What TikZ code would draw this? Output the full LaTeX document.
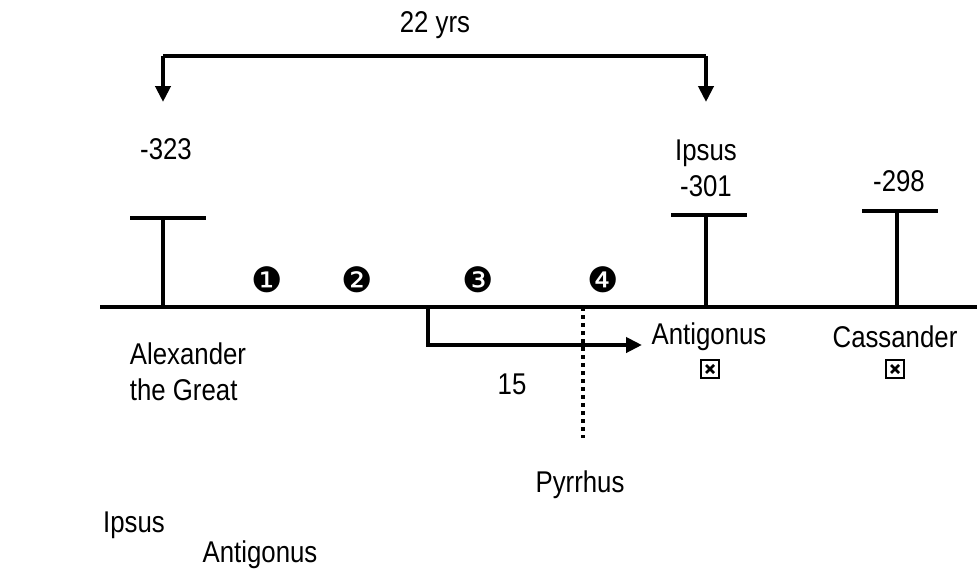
\documentclass[tikz,border=0pt]{standalone}
\usepackage{fontspec}
\setmainfont[FakeStretch=0.86]{Liberation Sans}
\newfontfamily\dingfont{DejaVu Sans}
\usetikzlibrary{arrows.meta}

\begin{document}
\begin{tikzpicture}[x=1pt,y=-1pt,
    bar/.style={black,line width=4pt},
    txt/.style={font=\fontsize{30}{36}\selectfont},
    num/.style={font=\dingfont\fontsize{35}{35}\selectfont},
    xbox/.style={draw,line width=2.2pt,minimum size=18pt,
      path picture={
        \draw [line width=2.8pt]
          ([xshift=5pt,yshift=-5pt]path picture bounding box.north west) --
          ([xshift=-5pt,yshift=5pt]path picture bounding box.south east)
          ([xshift=-5pt,yshift=-5pt]path picture bounding box.north east) --
          ([xshift=5pt,yshift=5pt]path picture bounding box.south west);}},
    tip/.style={-{Triangle[length=16pt,width=15pt]}}]
    \tikzstyle{every node}+=[inner sep=0pt]
    \useasboundingbox (0,0) rectangle (977,571);
    % time axis
    \coordinate (axisL) at (100,307);
    \coordinate (axisR) at (977,307);
    \draw [bar] (axisL) -- (axisR);
    % years
    \coordinate (alexB) at (163,307);
    \coordinate (alexT) at (163,218);
    \coordinate (ipsB) at (706,307);
    \coordinate (ipsT) at (706,215);
    \coordinate (casB) at (897,307);
    \coordinate (casT) at (897,211);
    \draw [bar] (alexB) -- (alexT) ++(-33,0) -- ++(76,0);
    \draw [bar] (ipsB) -- (ipsT) ++(-35,0) -- ++(76,0);
    \draw [bar] (casB) -- (casT) ++(-35,0) -- ++(76,0);
    \node [txt] (y323) at (166,149) {-323};
    \node [txt,align=center] (y301) at (706,168) {Ipsus\\-301};
    \node [txt] (y298) at (899,181) {-298};
    % 22 years span
    \node [txt] (span) at (435,25) {22 yrs};
    \coordinate (spanL) at (163,56);
    \coordinate (spanR) at (706,56);
    \coordinate (spanLend) at (163,102);
    \coordinate (spanRend) at (706,102);
    \draw [bar,tip] (spanL) -- (spanLend);
    \draw [bar,tip] (spanR) -- (spanRend);
    \draw [bar] (spanL) -- (spanR);
    % periods
    \node [num] (p1) at (267,280) {❶};
    \node [num] (p2) at (357,280) {❷};
    \node [num] (p3) at (478,280) {❸};
    \node [num] (p4) at (603,280) {❹};
    % rulers
    \node [txt,align=left] (alex) at (188,372) {Alexander\\the Great};
    \node [txt] (anti) at (709,337) {Antigonus};
    \node [xbox] (antiX) at (710,369) {};
    \node [txt] (cass) at (895,337) {Cassander};
    \node [xbox] (cassX) at (895,369) {};
    % 15 years
    \coordinate (fromB) at (428,307);
    \coordinate (toAnti) at (642,345);
    \draw [bar,tip] (fromB) |- (toAnti);
    \node [txt] (fifteen) at (512,384) {15};
    % Pyrrhus
    \coordinate (pyrB) at (583,307);
    \coordinate (pyrE) at (583,438);
    \node [txt] (pyr) at (580,485) {Pyrrhus};
    \draw [bar,dash pattern=on 4pt off 4pt] (pyrB) -- (pyrE);
    % below
    \node [txt] (ipsLow) at (134,525) {Ipsus};
    \node [txt] (antiLow) at (260,555) {Antigonus};
\end{tikzpicture}
\end{document}
